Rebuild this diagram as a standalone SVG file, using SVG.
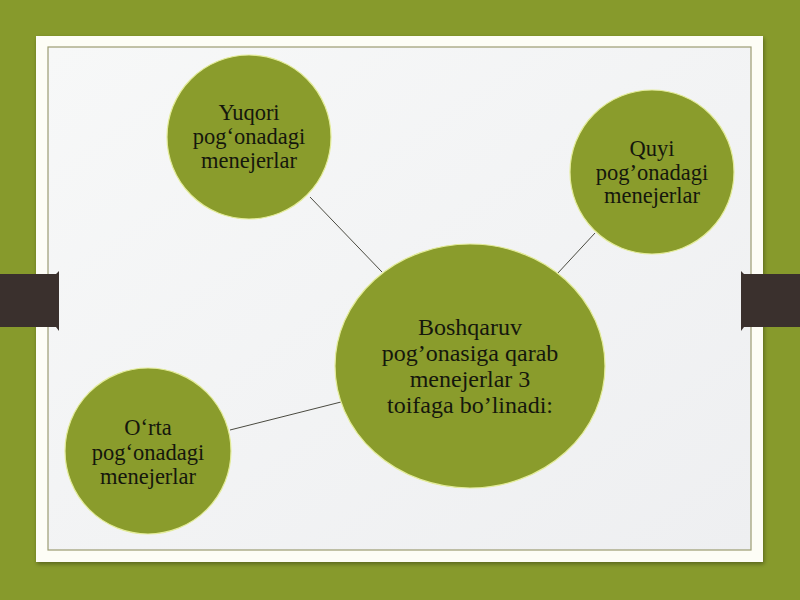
<svg xmlns="http://www.w3.org/2000/svg" width="800" height="600" viewBox="0 0 800 600">
<defs>
<linearGradient id="pg" x1="0" y1="0" x2="1" y2="1">
<stop offset="0" stop-color="#f7f8f8"/>
<stop offset="1" stop-color="#eeeff1"/>
</linearGradient>
<filter id="sh" x="-5%" y="-5%" width="110%" height="110%">
<feGaussianBlur in="SourceAlpha" stdDeviation="2"/>
<feOffset dx="1" dy="2"/>
<feComponentTransfer><feFuncA type="linear" slope="0.35"/></feComponentTransfer>
<feMerge><feMergeNode/><feMergeNode in="SourceGraphic"/></feMerge>
</filter>
</defs>
<style>
.node{fill:#8a9c2c;stroke:#e4ec9a;stroke-width:1.2}
.lbl{font-family:"Liberation Serif","Times New Roman",serif;font-size:22.5px;fill:#15170c;text-anchor:middle}
.big{font-size:24px}
.conn{stroke:#4a4a40;stroke-width:1;fill:none}
.tab{fill:#3a302d}
</style>
<rect width="800" height="600" fill="#879a2c"/>
<rect x="36" y="36" width="727" height="526" fill="#fdfdf6" filter="url(#sh)"/>
<rect x="48" y="47" width="703" height="503" fill="url(#pg)" stroke="#9c9c72" stroke-width="1.2"/>
<path class="tab" d="M0 274 H56 L59 271 V331 L56 327 H0 Z"/>
<path class="tab" d="M800 274 H744 L741 271 V331 L744 327 H800 Z"/>
<g id="connectors">
<line class="conn" x1="310" y1="197" x2="382" y2="272"/>
<line class="conn" x1="595" y1="233" x2="557" y2="274"/>
<line class="conn" x1="230" y1="430" x2="341" y2="402"/>
</g>
<g id="node-yuqori">
<ellipse class="node" cx="249" cy="137" rx="82" ry="82"/>
<text class="lbl" x="249" y="120">Yuqori</text>
<text class="lbl" x="249" y="144">pog‘onadagi</text>
<text class="lbl" x="249" y="168">menejerlar</text>
</g>
<g id="node-quyi">
<ellipse class="node" cx="652" cy="172" rx="82" ry="82"/>
<text class="lbl" x="652" y="156">Quyi</text>
<text class="lbl" x="652" y="180">pog’onadagi</text>
<text class="lbl" x="652" y="203">menejerlar</text>
</g>
<g id="node-center">
<ellipse class="node" cx="470" cy="366" rx="135" ry="122"/>
<text class="lbl big" x="470" y="335">Boshqaruv</text>
<text class="lbl big" x="470" y="361">pog’onasiga qarab</text>
<text class="lbl big" x="470" y="387">menejerlar 3</text>
<text class="lbl big" x="470" y="413">toifaga bo’linadi:</text>
</g>
<g id="node-orta">
<ellipse class="node" cx="148" cy="451" rx="83" ry="83"/>
<text class="lbl" x="148" y="435">O‘rta</text>
<text class="lbl" x="148" y="460">pog‘onadagi</text>
<text class="lbl" x="148" y="484">menejerlar</text>
</g>
</svg>
